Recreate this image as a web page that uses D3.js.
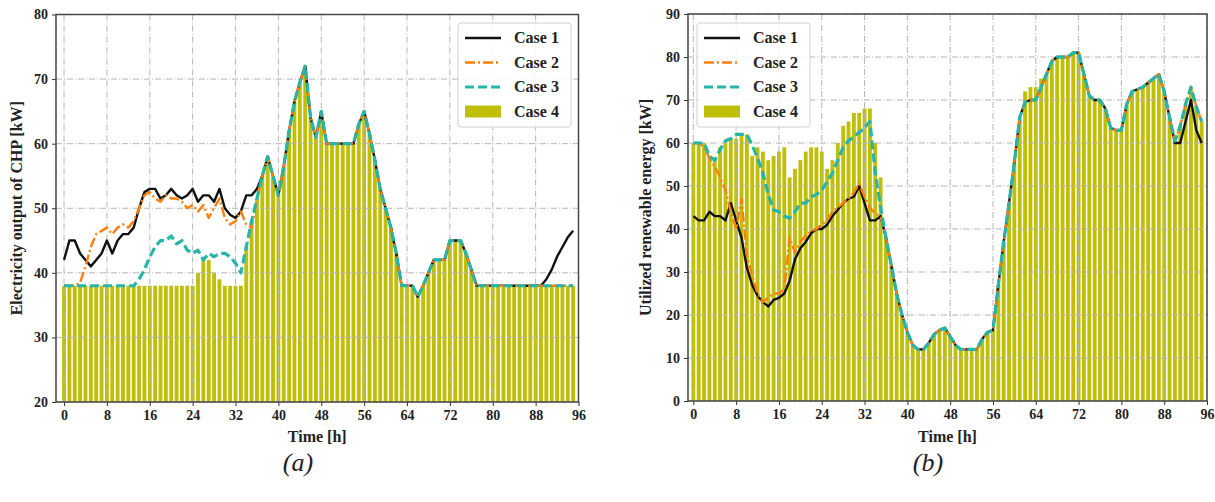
<!DOCTYPE html>
<html lang="en">
<head>
  <meta charset="UTF-8">
  <title>CHP output and renewable energy</title>
  <style>
    body { margin: 0; background: #ffffff; }
    svg { display: block; }
    text { font-family: "Liberation Serif", "Times New Roman", serif; }
    .tick text { font-weight: bold; font-size: 14px; fill: #222; }
  </style>
</head>
<body>
  <svg id="chart" width="1215" height="502"></svg>

  <script src="https://d3js.org/d3.v7.min.js"></script>
  <script>
    const hours = d3.range(96);
    const xTicks = [0, 8, 16, 24, 32, 40, 48, 56, 64, 72, 80, 88, 96];
    const yTicksA = [20, 30, 40, 50, 60, 70, 80];
    const yTicksB = [0, 10, 20, 30, 40, 50, 60, 70, 80, 90];
    const caseNames = ["Case 1", "Case 2", "Case 3", "Case 4"];

    // (a) electricity output of CHP [kW]
    const chpCase1 = [42,45,45,43,42,41,42,43,45,43,45,46,46,47,50,52.5,53,53,51.5,52,53,52,51.5,52,53,51,52,52,51,53,50,49,48.5,49.5,52,52,53,
      55,58,55,52,56.5,62,66.5,69.5,72,64,61,65,60,60,60,60,60,60,63,65,61.5,57.5,53,50,47,43,38,38,38,36.3,38,40,42,42,42,45,45,45,43,40.5,38,
      38,38,38,38,38,38,38,38,38,38,38,38,39,40.5,42.5,44,45.5,46.5];
    const chpCase2 = [38,38,38,38.5,41,44,46,46.5,47,46,47,47.5,47,48,50,52,52.5,51.5,51,52,51.5,51.5,51,50,50.5,49.5,50.5,48.5,50,51.5,48.5,47.5,48,49.5,47.5,47,51.5,
      55,58,55,52,56.5,62,66.5,69.5,72,64,61,65,60,60,60,60,60,60,63,65,61.5,57.5,53,50,47,43,38,38,38,36.3,38,40,42,42,42,45,45,45,43,40.5,38,
      38,38,38,38,38,38,38,38,38,38,38,38,38,38,38,38,38,38];
    const chpCase3 = [38,38,38,38,38,38,38,38,38,38,38,38,38,38,39,40.5,42.5,44,45,45,45.7,44.5,45,43.5,43,43.5,42,43,42.5,43,43,42.5,41.5,40,44,48,51.5,
      55,58,55,52,56.5,62,66.5,69.5,72,64,61,65,60,60,60,60,60,60,63,65,61.5,57.5,53,50,47,43,38,38,38,36.3,38,40,42,42,42,45,45,45,43,40.5,38,
      38,38,38,38,38,38,38,38,38,38,38,38,38,38,38,38,38,38];
    const chpCase4 = [38,38,38,38,38,38,38,38,38,38,38,38,38,38,38,38,38,38,38,38,38,38,38,38,38,40,42,42,40,39,38,38,38,38,44,48,51.5,
      55,58,55,52,56.5,62,66.5,69.5,72,64,61,65,60,60,60,60,60,60,63,65,61.5,57.5,53,50,47,43,38,38,38,36.3,38,40,42,42,42,45,45,45,43,40.5,38,
      38,38,38,38,38,38,38,38,38,38,38,38,38,38,38,38,38,38];

    // (b) utilized renewable energy [kW]
    const resCase1 = [43,42,42,44,43,43,42,46,42,38,31,27,24.5,23,22,23.5,24,25,28,33,35.5,37,39,40,40,41,43,44.5,46,47,47.5,50,46,42,42,43,
      38,31.5,25,20,16,13,12,12,13.5,15.5,16.5,17,15,13,12,12,12,12,14.5,16,16.5,27,37,46,55.5,66,69.5,70,70,73,76,79,80,80,80,81,81,76,71,70,70,68,63.5,63,63,69,72,72.5,73,74,75,76,72,66,
      60,60,65,70,63,60];
    const resCase2 = [60,60,59,56.5,54.5,52,49,44,40,47,34,29,25,23,24,25,25,26,38,34.5,37,38.5,39.5,40,41,42,44,45,46,47,48.5,50.5,47.5,45,43.5,43,
      38,31.5,25,20,16,13,12,12,13.5,15.5,16.5,17,15,13,12,12,12,12,14.5,16,16.5,27,37,46,55.5,66,69.5,70,70,73,76,79,80,80,80,81,81,76,71,70,70,68,63.5,63,63,69,72,72.5,73,74,75,76,72,66,
      60.5,64,69,73,68.5,65];
    const resCase3 = [60,60,60,57,56,58.5,60.5,61,62,62,62,59.5,56.5,53,48,44.5,44,43,42.5,44,46,46,47.5,48,49,51,53,56,59,60.5,61.5,62.5,63.5,65,53,45,
      38,31.5,25,20,16,13,12,12,13.5,15.5,16.5,17,15,13,12,12,12,12,14.5,16,16.5,27,37,46,55.5,66,69.5,70,70,73,76,79,80,80,80,81,81,76,71,70,70,68,63.5,63,63,69,72,72.5,73,74,75,76,72,66,
      60.5,64,69,73,68.5,65];
    const resCase4 = [60,60,60,57,56,59,60.5,61,61,62,62,57,59,58,56,57,58,59,52,54,56,58,59,59,58,54,56,60,64,65,67,67,68,68,60,52,
      38,31.5,25,20,16,13,12,12,13.5,15.5,16.5,17,15,13,12,12,12,12,14.5,16,16.5,27,37,46,55.5,66,72,73,73,75,76,79,80,80,80,81,81,76,71,70,70,68,63.5,63,63,69,72,72.5,73,74,75,76,72,66,
      60.5,64,69,73,68.5,65];

    const svg = d3.select("#chart");

    const barColor = "#bfbf0a";
    const lineStyles = [
      { color: "#111111", width: 2.4, dash: null },
      { color: "#ff7f0e", width: 2.4, dash: "10,3,2,3" },
      { color: "#26b5a8", width: 3.2, dash: "9,4" }
    ];

    function drawPanel(opts) {
      const x = d3.scaleLinear().domain(opts.xDomain).range([opts.left, opts.right]);
      const y = d3.scaleLinear().domain(opts.yDomain).range([opts.bottom, opts.top]);
      const g = svg.append("g");
      const step = x(1) - x(0);
      const bw = step * 0.72;

      // bars (case 4)
      g.append("g").selectAll("rect")
        .data(hours)
        .enter().append("rect")
        .attr("x", d => x(d) - bw / 2)
        .attr("width", bw)
        .attr("y", d => y(opts.bars[d]))
        .attr("height", d => y(opts.yDomain[0]) - y(opts.bars[d]))
        .attr("fill", barColor);

      // grid
      const grid = g.append("g")
        .attr("stroke", "#b5b5b5")
        .attr("stroke-width", 1)
        .attr("stroke-dasharray", "6,2,1,2");
      grid.selectAll(".vg").data(xTicks).enter().append("line")
        .attr("x1", d => x(d)).attr("x2", d => x(d))
        .attr("y1", opts.top).attr("y2", opts.bottom);
      grid.selectAll(".hg").data(opts.yTicks).enter().append("line")
        .attr("x1", opts.left).attr("x2", opts.right)
        .attr("y1", d => y(d)).attr("y2", d => y(d));

      // lines (case 1..3)
      const line = d3.line().x((d, i) => x(i)).y(d => y(d));
      opts.lines.forEach((data, i) => {
        const s = lineStyles[i];
        g.append("path")
          .datum(data)
          .attr("fill", "none")
          .attr("stroke", s.color)
          .attr("stroke-width", s.width)
          .attr("stroke-dasharray", s.dash)
          .attr("stroke-linejoin", "round")
          .attr("d", line);
      });

      // axes
      const xa = g.append("g")
        .attr("transform", `translate(0,${opts.bottom})`)
        .call(d3.axisBottom(x).tickValues(xTicks).tickSize(4).tickPadding(4));
      const ya = g.append("g")
        .attr("transform", `translate(${opts.left},0)`)
        .call(d3.axisLeft(y).tickValues(opts.yTicks).tickSize(4).tickPadding(4));
      [xa, ya].forEach(a => {
        a.select(".domain").remove();
        a.selectAll("line").attr("stroke", "#333");
      });

      // frame
      g.append("rect")
        .attr("x", opts.left).attr("y", opts.top)
        .attr("width", opts.right - opts.left).attr("height", opts.bottom - opts.top)
        .attr("fill", "none").attr("stroke", "#444").attr("stroke-width", 1.5);

      // axis titles
      g.append("text")
        .attr("x", (opts.left + opts.right) / 2)
        .attr("y", 442)
        .attr("text-anchor", "middle")
        .style("font-weight", "bold")
        .style("font-size", "16px")
        .attr("fill", "#222")
        .text("Time [h]");
      g.append("text")
        .attr("transform", `translate(${opts.yTitleX},${(opts.top + opts.bottom) / 2}) rotate(-90)`)
        .attr("text-anchor", "middle")
        .style("font-weight", "bold")
        .style("font-size", "16px")
        .attr("fill", "#222")
        .text(opts.yTitle);

      // legend
      const lg = g.append("g").attr("transform", `translate(${opts.legendX},23)`);
      lg.append("rect")
        .attr("width", 113).attr("height", 104).attr("rx", 3)
        .attr("fill", "white").attr("fill-opacity", 0.85)
        .attr("stroke", "#d0d0d0");
      caseNames.forEach((name, i) => {
        const cy = 15 + i * 24.5;
        if (i < 3) {
          const s = lineStyles[i];
          lg.append("line")
            .attr("x1", 7).attr("x2", 43).attr("y1", cy).attr("y2", cy)
            .attr("stroke", s.color).attr("stroke-width", s.width)
            .attr("stroke-dasharray", s.dash);
        } else {
          lg.append("rect")
            .attr("x", 7).attr("y", cy - 6).attr("width", 36).attr("height", 12)
            .attr("fill", barColor);
        }
        lg.append("text")
          .attr("x", 56).attr("y", cy + 5)
          .style("font-weight", "bold").style("font-size", "16px")
          .attr("fill", "#222")
          .text(name);
      });

      // caption
      svg.append("text")
        .attr("x", opts.captionX).attr("y", 471)
        .attr("text-anchor", "middle")
        .style("font-style", "italic")
        .style("font-size", "26px")
        .attr("fill", "#222")
        .text(opts.caption);
    }

    drawPanel({
      left: 56, right: 578.5, top: 14.5, bottom: 402,
      xDomain: [-1.5, 96], yDomain: [20, 80], yTicks: yTicksA,
      bars: chpCase4, lines: [chpCase1, chpCase2, chpCase3],
      yTitle: "Electricity output of CHP [kW]", yTitleX: 22,
      legendX: 458, caption: "(a)", captionX: 298
    });

    drawPanel({
      left: 688, right: 1207, top: 14, bottom: 401,
      xDomain: [-1, 96], yDomain: [0, 90], yTicks: yTicksB,
      bars: resCase4, lines: [resCase1, resCase2, resCase3],
      yTitle: "Utilized renewable energy [kW]", yTitleX: 651,
      legendX: 697, caption: "(b)", captionX: 928
    });
  </script>
</body>
</html>
